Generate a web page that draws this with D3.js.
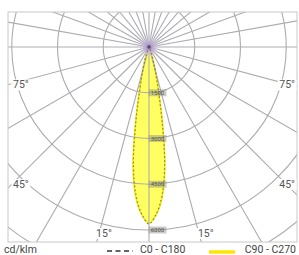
<!DOCTYPE html>
<html lang="en">
<head>
<meta charset="UTF-8">
<title>LDC</title>
<script src="https://d3js.org/d3.v7.min.js"></script>
<style>
  body { margin: 0; background: #fff; }
  svg { display: block; font-family: Roboto, "Noto Sans", sans-serif; }
</style>
</head>
<body>
<svg width="299" height="255"></svg>
<script>
    // gamma angles (deg from nadir) and intensities in cd/klm
    let gammas = [0, 2.5, 5, 7.5, 10, 12.5, 15, 17.5, 20, 25, 30, 40, 50, 60, 70, 80, 90];
    let c90 = [5780, 5500, 4950, 4000, 2550, 1400, 820, 450, 250, 110, 50, 20, 10, 5, 2, 0, 0];
    let c0 = [5800, 5480, 4880, 3920, 2480, 1350, 790, 430, 240, 100, 45, 18, 8, 4, 1, 0, 0];
    let rings = [1500, 3000, 4500, 6000, 7500, 9000, 10500];
    let ringLabels = [1500, 3000, 4500, 6000];
    let angleLabels = [15, 45, 75];

    let svg = d3.select("svg"),
        box = {x0: 8, y0: 12, x1: 297, y1: 242},
        cx = 149, cy = 47;

    let r = d3.scaleLinear().domain([0, 6000]).range([0, 183]);
    let rad = d => d * Math.PI / 180;

    let defs = svg.append("defs");
    defs.append("clipPath").attr("id", "clip")
        .append("rect")
        .attr("x", box.x0).attr("y", box.y0)
        .attr("width", box.x1 - box.x0).attr("height", box.y1 - box.y0);

    let grad = defs.append("radialGradient").attr("id", "glow");
    grad.append("stop").attr("offset", "0%").attr("stop-color", "#2a1a30");
    grad.append("stop").attr("offset", "25%").attr("stop-color", "#b49ad8").attr("stop-opacity", 0.8);
    grad.append("stop").attr("offset", "100%").attr("stop-color", "#e8e0f4").attr("stop-opacity", 0);

    let plot = svg.append("g").attr("clip-path", "url(#clip)");
    let g = plot.append("g").attr("transform", `translate(${cx},${cy})`);

    // full curve: mirror right half to left
    function curvePoints(vals) {
        let pts = [];
        for (let i = gammas.length - 1; i > 0; i--) pts.push([-rad(gammas[i]), vals[i]]);
        for (let i = 0; i < gammas.length; i++) pts.push([rad(gammas[i]), vals[i]]);
        return pts;
    }
    let line = d3.lineRadial()
        .angle(d => Math.PI - d[0])
        .radius(d => r(d[1]))
        .curve(d3.curveCatmullRom);

    g.append("path")
        .attr("d", line(curvePoints(c90)) + "Z")
        .attr("fill", "#ffff62")
        .attr("stroke", "#f2e600")
        .attr("stroke-width", 1.5);

    // grid
    let grid = g.append("g").attr("stroke", "#adabb2").attr("fill", "none").attr("stroke-width", 1.1);
    grid.selectAll("circle").data(rings).join("circle")
        .attr("r", d => r(d));
    let spokes = d3.range(-90, 91, 15)
        .concat(d3.range(100, 181, 10))
        .concat(d3.range(-100, -179, -10));
    grid.selectAll("line").data(spokes).join("line")
        .attr("x1", 0).attr("y1", 0)
        .attr("x2", d => 400 * Math.sin(rad(d)))
        .attr("y2", d => 400 * Math.cos(rad(d)));

    g.append("circle").attr("r", 11).attr("fill", "url(#glow)");

    g.append("path")
        .attr("d", line(curvePoints(c0)))
        .attr("fill", "none")
        .attr("stroke", "#6b6440")
        .attr("stroke-width", 1.3)
        .attr("stroke-dasharray", "1.5,2.5")
        .attr("opacity", 0.75);

    // ring value labels along the nadir axis
    let rl = g.selectAll("g.rl").data(ringLabels).join("g")
        .attr("transform", d => `translate(0,${r(d)})`);
    rl.append("rect").attr("x", -0.5).attr("y", -3.5).attr("width", 18).attr("height", 7)
        .attr("fill", "#8c8c7c").attr("opacity", 0.45);
    rl.append("text").attr("x", 8.5).attr("y", 2.2).attr("text-anchor", "middle")
        .attr("font-size", 6).attr("fill", "#555").text(d => d);

    svg.append("rect")
        .attr("x", box.x0).attr("y", box.y0)
        .attr("width", box.x1 - box.x0).attr("height", box.y1 - box.y0)
        .attr("fill", "none").attr("stroke", "#c8c8c8");

    // angle labels where the spokes leave the (inset) box
    let inset = 5;
    angleLabels.forEach(a => {
        let t = Math.tan(rad(a));
        let w = cx - box.x0 - inset, h = box.y1 - inset - cy;
        let pos;
        if (w / t > h) pos = {dx: h * t, y: box.y1 - inset, side: false};
        else pos = {dx: w, y: cy + w / t + 5, side: true};
        [-1, 1].forEach(s => {
            let x = pos.side ? (s < 0 ? box.x0 + inset : box.x1 - 2) : cx + s * pos.dx - 2;
            let anchor = pos.side && s > 0 ? "end" : "start";
            let lab = svg.append("g");
            let bg = lab.append("rect").attr("fill", "#fff");
            let txt = lab.append("text")
                .attr("x", x).attr("y", pos.y)
                .attr("text-anchor", anchor)
                .attr("font-size", 10.5).attr("fill", "#555")
                .text(a + "°");
            let bb = txt.node().getBBox();
            bg.attr("x", bb.x - 1.5).attr("y", bb.y + 1)
                .attr("width", bb.width + 3).attr("height", bb.height - 2);
        });
    });

    // legend
    let lg = svg.append("g").attr("font-size", 10.5).attr("fill", "#444");
    lg.append("text").attr("x", 4).attr("y", 253).text("cd/klm");
    lg.append("line").attr("x1", 107).attr("x2", 133).attr("y1", 251).attr("y2", 251)
        .attr("stroke", "#333").attr("stroke-width", 1.6).attr("stroke-dasharray", "5,3.5");
    lg.append("text").attr("x", 140).attr("y", 253).text("C0 - C180");
    lg.append("line").attr("x1", 209).attr("x2", 235).attr("y1", 252).attr("y2", 252)
        .attr("stroke", "#ffe600").attr("stroke-width", 3.5);
    lg.append("text").attr("x", 296).attr("y", 253).attr("text-anchor", "end").text("C90 - C270");
</script>
</body>
</html>
